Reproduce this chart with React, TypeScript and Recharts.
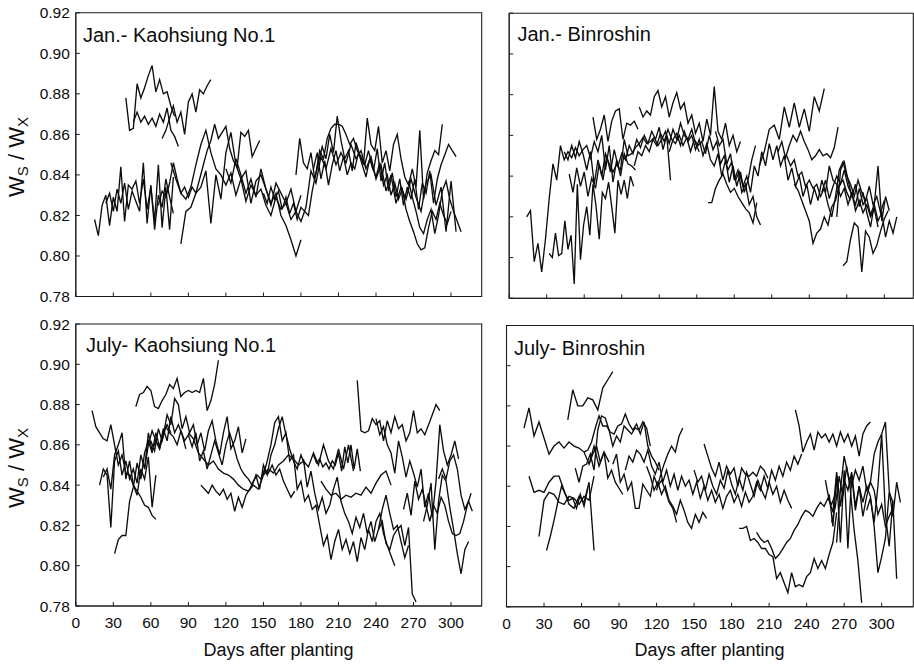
import React from 'react';
import { LineChart, Line, XAxis, YAxis, ReferenceArea } from 'recharts';

// One measured run: first day, sampling interval in days, then the Ws/Wx readings.
type Segment = { start: number; step: number; v: number[] };

const DAY_TICKS = [0, 30, 60, 90, 120, 150, 180, 210, 240, 270, 300];
const RATIO_TICKS = [0.78, 0.8, 0.82, 0.84, 0.86, 0.88, 0.9, 0.92];

// January planting, Kaohsiung No.1
const janKaohsiung: Segment[] = [
  { start: 15, step: 3, v: [0.818, 0.810, 0.825, 0.830, 0.815, 0.829, 0.822, 0.844, 0.817, 0.835, 0.833, 0.837, 0.826, 0.838, 0.823, 0.834, 0.817, 0.845, 0.814, 0.834, 0.813, 0.839] },
  { start: 24, step: 3, v: [0.826, 0.831, 0.822, 0.833, 0.826, 0.836, 0.823, 0.832, 0.827, 0.822, 0.846, 0.816, 0.835, 0.813, 0.830, 0.824, 0.838, 0.829, 0.821] },
  { start: 40, step: 3, v: [0.878, 0.862, 0.863, 0.885, 0.878, 0.883, 0.889, 0.894, 0.881, 0.887, 0.880, 0.881, 0.874, 0.869] },
  { start: 46, step: 3, v: [0.866, 0.871, 0.866, 0.869, 0.865, 0.868, 0.864, 0.870, 0.866, 0.873, 0.862, 0.859, 0.854] },
  { start: 69, step: 3, v: [0.858, 0.862, 0.868, 0.874, 0.866, 0.871, 0.860, 0.876, 0.880, 0.871, 0.882, 0.880, 0.884, 0.887] },
  { start: 66, step: 3, v: [0.825, 0.832, 0.829, 0.836, 0.846, 0.838, 0.831, 0.834, 0.829, 0.834, 0.831, 0.838, 0.845, 0.852, 0.857, 0.865, 0.858, 0.861, 0.864, 0.853, 0.847, 0.844, 0.861, 0.859, 0.862, 0.849, 0.853, 0.857] },
  { start: 76, step: 4, v: [0.846, 0.838, 0.831, 0.828, 0.834, 0.845, 0.855, 0.862, 0.851, 0.843, 0.840, 0.835, 0.841, 0.830, 0.838, 0.827, 0.835, 0.830, 0.833, 0.825, 0.820, 0.829, 0.823, 0.826, 0.818, 0.822, 0.830] },
  { start: 84, step: 4, v: [0.806, 0.822, 0.824, 0.831, 0.834, 0.842, 0.816, 0.840, 0.828, 0.851, 0.861, 0.845, 0.838, 0.842, 0.826, 0.837, 0.840, 0.833, 0.825, 0.836, 0.831, 0.826, 0.833, 0.822, 0.817, 0.824, 0.842, 0.836, 0.849, 0.843, 0.853, 0.845, 0.851, 0.846, 0.855, 0.848, 0.852, 0.843, 0.849, 0.838, 0.845, 0.832, 0.840, 0.826, 0.834, 0.828, 0.838, 0.829, 0.822, 0.836, 0.840, 0.825, 0.834, 0.812, 0.837, 0.812] },
  { start: 120, step: 4, v: [0.843, 0.836, 0.848, 0.840, 0.831, 0.838, 0.829, 0.843, 0.833, 0.826, 0.831, 0.820, 0.815, 0.808, 0.800, 0.808] },
  { start: 150, step: 3, v: [0.831, 0.826, 0.834, 0.828, 0.832, 0.823, 0.829, 0.821, 0.826, 0.818, 0.824, 0.822, 0.820, 0.832, 0.841, 0.852, 0.848, 0.858, 0.863, 0.865, 0.865, 0.864, 0.860, 0.855, 0.858, 0.852, 0.849, 0.845, 0.852, 0.844, 0.839, 0.846, 0.835, 0.840, 0.830, 0.836, 0.828, 0.833, 0.823, 0.817, 0.812, 0.806, 0.803, 0.804, 0.814, 0.822, 0.818, 0.826, 0.820, 0.816, 0.822] },
  { start: 176, step: 3, v: [0.840, 0.858, 0.846, 0.843, 0.851, 0.838, 0.846, 0.854, 0.848, 0.860, 0.851, 0.869, 0.857, 0.848, 0.852, 0.842, 0.856, 0.850, 0.845, 0.868, 0.855, 0.852, 0.864, 0.846, 0.852, 0.842, 0.855, 0.860, 0.848, 0.839, 0.835, 0.843, 0.834, 0.862, 0.828, 0.841, 0.847, 0.852, 0.850, 0.865] },
  { start: 190, step: 3, v: [0.843, 0.851, 0.838, 0.847, 0.835, 0.845, 0.852, 0.842, 0.849, 0.840, 0.846, 0.843, 0.851, 0.845, 0.839, 0.848, 0.842, 0.853, 0.837, 0.846, 0.832, 0.841, 0.829, 0.838, 0.825, 0.834, 0.828, 0.838, 0.823, 0.836, 0.831, 0.842, 0.826, 0.838, 0.845, 0.850, 0.855, 0.852, 0.849] },
  { start: 266, step: 3, v: [0.837, 0.829, 0.822, 0.814, 0.811, 0.818, 0.823, 0.811, 0.820, 0.832, 0.837, 0.828, 0.822, 0.817, 0.812] },
];

// January planting, Binroshin
const janBinroshin: Segment[] = [
  { start: 14, step: 3, v: [0.820, 0.823, 0.798, 0.807, 0.793, 0.809, 0.829, 0.846, 0.838, 0.855, 0.848, 0.852, 0.849, 0.854, 0.850, 0.853, 0.855, 0.849, 0.857, 0.852, 0.860, 0.843, 0.855, 0.837, 0.848, 0.840, 0.851, 0.846, 0.845, 0.843] },
  { start: 32, step: 2.5, v: [0.802, 0.800, 0.812, 0.801, 0.802, 0.818, 0.804, 0.811, 0.787, 0.836, 0.799, 0.816, 0.825, 0.811, 0.836, 0.825, 0.809, 0.832, 0.829, 0.837, 0.825, 0.812, 0.838, 0.831, 0.838, 0.829, 0.840, 0.835] },
  { start: 44, step: 3, v: [0.852, 0.848, 0.855, 0.849, 0.857, 0.851, 0.843, 0.852, 0.836, 0.848, 0.840, 0.851, 0.846, 0.842, 0.846, 0.843, 0.858, 0.850, 0.851, 0.854, 0.856, 0.859, 0.856, 0.857, 0.859, 0.855, 0.858, 0.862, 0.856, 0.863, 0.858, 0.866, 0.860, 0.858, 0.863, 0.856, 0.852] },
  { start: 48, step: 3, v: [0.841, 0.832, 0.844, 0.835, 0.842, 0.830, 0.839, 0.834, 0.846, 0.838, 0.850, 0.842, 0.853, 0.845, 0.851, 0.848, 0.855, 0.851, 0.858, 0.854, 0.860, 0.856, 0.862, 0.858, 0.864, 0.853, 0.860, 0.838] },
  { start: 67, step: 3, v: [0.869, 0.858, 0.863, 0.870, 0.857, 0.867, 0.872, 0.873, 0.858, 0.866, 0.865, 0.867, 0.863] },
  { start: 104, step: 3, v: [0.874, 0.869, 0.872, 0.870, 0.879, 0.882, 0.874, 0.879, 0.869, 0.876, 0.881, 0.873, 0.876, 0.866, 0.870, 0.861, 0.866, 0.857, 0.868, 0.860, 0.884, 0.862, 0.858, 0.866, 0.855, 0.860, 0.852, 0.857] },
  { start: 100, step: 3, v: [0.845, 0.852, 0.850, 0.855, 0.852, 0.858, 0.855, 0.861, 0.857, 0.863, 0.858, 0.856, 0.860, 0.855, 0.859, 0.852, 0.858, 0.855, 0.857, 0.851, 0.860, 0.853, 0.857, 0.846, 0.850, 0.843, 0.847, 0.838, 0.842, 0.835, 0.840, 0.832, 0.845, 0.840, 0.852, 0.845, 0.856, 0.848, 0.855, 0.845, 0.850, 0.838, 0.844, 0.835, 0.840, 0.830, 0.836, 0.826, 0.834, 0.828, 0.838, 0.832, 0.845, 0.838, 0.836, 0.830, 0.834, 0.826, 0.832, 0.823, 0.828, 0.822, 0.826, 0.820, 0.824, 0.815] },
  { start: 128, step: 3, v: [0.852, 0.858, 0.861, 0.855, 0.862, 0.857, 0.860, 0.853, 0.858, 0.850, 0.856, 0.848, 0.845, 0.851, 0.840, 0.848, 0.837, 0.845, 0.835, 0.842, 0.832, 0.838, 0.848, 0.855] },
  { start: 159, step: 3, v: [0.827, 0.827, 0.834, 0.838, 0.841, 0.836, 0.832, 0.834, 0.830, 0.827, 0.824, 0.822, 0.817, 0.827] },
  { start: 165, step: 3, v: [0.862, 0.855, 0.858, 0.846, 0.851, 0.838, 0.843, 0.832, 0.836, 0.826, 0.830, 0.820, 0.816] },
  { start: 200, step: 4, v: [0.845, 0.852, 0.863, 0.865, 0.858, 0.874, 0.864, 0.876, 0.864, 0.873, 0.862, 0.879, 0.872, 0.883] },
  { start: 215, step: 3, v: [0.852, 0.857, 0.849, 0.855, 0.860, 0.857, 0.862, 0.857, 0.853, 0.848, 0.850, 0.853, 0.850, 0.851, 0.849, 0.854, 0.864] },
  { start: 222, step: 3, v: [0.850, 0.845, 0.848, 0.840, 0.842, 0.835, 0.838, 0.834, 0.836, 0.830, 0.834, 0.826, 0.820, 0.830, 0.843, 0.847, 0.840, 0.836, 0.830, 0.838, 0.832, 0.828, 0.835, 0.826, 0.830, 0.822, 0.828] },
  { start: 228, step: 3, v: [0.836, 0.833, 0.828, 0.823, 0.818, 0.807, 0.812, 0.814, 0.820, 0.816, 0.825, 0.828, 0.836, 0.838, 0.832, 0.828] },
  { start: 267, step: 3, v: [0.796, 0.798, 0.809, 0.817, 0.815, 0.793, 0.813, 0.810, 0.802, 0.806, 0.813, 0.819, 0.823] },
  { start: 262, step: 3, v: [0.820, 0.843, 0.847, 0.838, 0.830, 0.836, 0.825, 0.832, 0.822, 0.815, 0.826, 0.845, 0.818, 0.830, 0.823] },
  { start: 250, step: 3, v: [0.832, 0.838, 0.829, 0.835, 0.840, 0.836, 0.843, 0.835, 0.831, 0.826, 0.834, 0.826, 0.829, 0.821, 0.826, 0.818, 0.822, 0.810, 0.818, 0.812, 0.820] },
];

// July planting, Kaohsiung No.1
const julKaohsiung: Segment[] = [
  { start: 13, step: 3, v: [0.877, 0.869, 0.866, 0.863, 0.862, 0.870, 0.860, 0.850, 0.855, 0.846, 0.845, 0.840, 0.837, 0.834, 0.830, 0.829, 0.825, 0.823] },
  { start: 19, step: 3, v: [0.840, 0.848, 0.845, 0.819, 0.852, 0.857, 0.845, 0.852, 0.843, 0.848, 0.841, 0.855, 0.848, 0.866, 0.857, 0.862, 0.858, 0.867, 0.870, 0.866] },
  { start: 22, step: 3, v: [0.844, 0.848, 0.838, 0.855, 0.860, 0.866, 0.843, 0.852, 0.840, 0.835, 0.848, 0.843, 0.854, 0.829, 0.845] },
  { start: 31, step: 3, v: [0.806, 0.813, 0.815, 0.815, 0.832, 0.839, 0.851, 0.843, 0.856, 0.862, 0.856, 0.866, 0.859, 0.868, 0.862, 0.874, 0.866, 0.870, 0.865, 0.858] },
  { start: 48, step: 3, v: [0.879, 0.885, 0.886, 0.889, 0.887, 0.879, 0.878, 0.882, 0.885, 0.890, 0.888, 0.893, 0.884, 0.886, 0.887, 0.886, 0.887, 0.886, 0.893, 0.877, 0.882, 0.890, 0.902] },
  { start: 55, step: 3, v: [0.848, 0.860, 0.867, 0.862, 0.858, 0.865, 0.875, 0.870, 0.883, 0.880, 0.868, 0.874, 0.866, 0.870, 0.860, 0.866, 0.857, 0.867, 0.872, 0.862, 0.855, 0.866, 0.874, 0.858, 0.862, 0.869, 0.856, 0.863] },
  { start: 60, step: 3, v: [0.862, 0.857, 0.868, 0.862, 0.869, 0.866, 0.864, 0.860, 0.867, 0.862, 0.865, 0.859, 0.866, 0.852, 0.857, 0.848, 0.855, 0.862, 0.856, 0.850, 0.860, 0.866, 0.860, 0.853, 0.848, 0.845, 0.843, 0.840, 0.845, 0.838, 0.850, 0.845, 0.855, 0.860, 0.868, 0.874, 0.865, 0.858, 0.852, 0.848, 0.855, 0.850] },
  { start: 100, step: 3, v: [0.840, 0.838, 0.836, 0.840, 0.837, 0.835, 0.838, 0.833, 0.836, 0.827, 0.834, 0.829, 0.835, 0.838, 0.842, 0.845, 0.843, 0.848, 0.846, 0.850, 0.845, 0.848, 0.842, 0.838, 0.834, 0.837] },
  { start: 90, step: 4, v: [0.866, 0.863, 0.856, 0.853, 0.850, 0.852, 0.848, 0.846, 0.845, 0.843, 0.840, 0.838, 0.837, 0.840, 0.838, 0.845, 0.848, 0.846, 0.850, 0.852, 0.855, 0.853, 0.850, 0.852, 0.849, 0.856, 0.850, 0.860, 0.852, 0.848, 0.858, 0.848, 0.860, 0.847] },
  { start: 150, step: 3, v: [0.845, 0.852, 0.860, 0.871, 0.874, 0.862, 0.866, 0.852, 0.855, 0.838, 0.842, 0.832, 0.835, 0.828, 0.830, 0.820, 0.810, 0.815, 0.803, 0.812, 0.818, 0.808, 0.813, 0.806, 0.812, 0.802, 0.814, 0.808, 0.818, 0.812, 0.822, 0.826, 0.816, 0.810, 0.805, 0.800] },
  { start: 182, step: 3, v: [0.853, 0.839, 0.847, 0.836, 0.828, 0.834, 0.826, 0.830, 0.838, 0.844, 0.832, 0.826, 0.822, 0.816, 0.824, 0.819, 0.826, 0.816, 0.822, 0.812, 0.818, 0.828, 0.835, 0.826, 0.818, 0.820, 0.812, 0.804, 0.810] },
  { start: 196, step: 4, v: [0.842, 0.838, 0.835, 0.836, 0.833, 0.835, 0.834, 0.836, 0.835, 0.839, 0.836, 0.841, 0.845, 0.847, 0.840] },
  { start: 190, step: 2.5, v: [0.855, 0.851, 0.853, 0.849, 0.851, 0.848, 0.852, 0.850, 0.856, 0.847, 0.859, 0.851, 0.860, 0.848, 0.858, 0.847] },
  { start: 225, step: 3, v: [0.892, 0.867, 0.866, 0.867, 0.873, 0.870, 0.872, 0.862, 0.872, 0.866, 0.874, 0.868, 0.870, 0.862, 0.866, 0.877, 0.866, 0.868, 0.865, 0.870, 0.875, 0.880, 0.877] },
  { start: 240, step: 3, v: [0.873, 0.865, 0.869, 0.860, 0.856, 0.846, 0.862, 0.854, 0.844, 0.852, 0.846, 0.839, 0.848, 0.829, 0.836, 0.824, 0.842, 0.870, 0.857, 0.850, 0.855, 0.862, 0.853] },
  { start: 242, step: 3, v: [0.818, 0.822, 0.811, 0.808, 0.815, 0.818, 0.820, 0.810, 0.819, 0.786, 0.782] },
  { start: 262, step: 3, v: [0.828, 0.836, 0.825, 0.842, 0.833, 0.838, 0.830, 0.822, 0.830, 0.826, 0.834, 0.830, 0.822, 0.816, 0.815, 0.816, 0.822, 0.830, 0.836] },
  { start: 278, step: 3, v: [0.822, 0.830, 0.841, 0.808, 0.832, 0.845, 0.842, 0.829, 0.818, 0.806, 0.796, 0.808, 0.812] },
  { start: 290, step: 3, v: [0.843, 0.848, 0.843, 0.852, 0.855, 0.848, 0.835, 0.828, 0.832, 0.827] },
];

// July planting, Binroshin
const julBinroshin: Segment[] = [
  { start: 14, step: 4, v: [0.869, 0.879, 0.865, 0.872, 0.864, 0.856, 0.860, 0.862, 0.859, 0.862, 0.860, 0.859, 0.857, 0.851, 0.860, 0.850, 0.857, 0.852] },
  { start: 49, step: 4, v: [0.873, 0.888, 0.880, 0.880, 0.884, 0.883, 0.878, 0.889, 0.893, 0.897] },
  { start: 18, step: 4, v: [0.845, 0.837, 0.838, 0.837, 0.842, 0.845, 0.845, 0.838, 0.831, 0.829, 0.835, 0.832, 0.842, 0.808] },
  { start: 26, step: 4, v: [0.815, 0.833, 0.837, 0.836, 0.832, 0.831, 0.835, 0.834, 0.831, 0.835, 0.833, 0.845] },
  { start: 32, step: 3, v: [0.808, 0.815, 0.823, 0.832, 0.840, 0.836, 0.833, 0.834, 0.829, 0.836, 0.830, 0.839] },
  { start: 55, step: 3, v: [0.849, 0.842, 0.850, 0.851, 0.856, 0.848, 0.868, 0.875, 0.874, 0.868, 0.860, 0.865, 0.862, 0.870, 0.868, 0.866, 0.869, 0.868, 0.872, 0.869, 0.860] },
  { start: 62, step: 3, v: [0.857, 0.858, 0.862, 0.869, 0.875, 0.870, 0.870, 0.867, 0.866, 0.870, 0.871, 0.876, 0.871, 0.868, 0.871, 0.866, 0.872, 0.860, 0.855, 0.852, 0.848] },
  { start: 66, step: 3, v: [0.851, 0.856, 0.860, 0.852, 0.857, 0.844, 0.848, 0.842, 0.839, 0.836] },
  { start: 85, step: 3, v: [0.851, 0.856, 0.842, 0.846, 0.838, 0.842, 0.829, 0.829, 0.841, 0.838, 0.835, 0.845, 0.840, 0.843, 0.838, 0.832, 0.829, 0.822] },
  { start: 95, step: 3, v: [0.848, 0.855, 0.852, 0.858, 0.856, 0.852, 0.858, 0.850, 0.846, 0.852, 0.842, 0.848, 0.840, 0.846, 0.838, 0.845, 0.840, 0.843, 0.836, 0.842, 0.834, 0.840, 0.833, 0.838, 0.832, 0.836, 0.829, 0.835, 0.838, 0.832, 0.836, 0.830, 0.837, 0.832, 0.835, 0.842, 0.838, 0.845, 0.839, 0.848, 0.843, 0.850, 0.845, 0.852, 0.848, 0.855, 0.851, 0.856] },
  { start: 120, step: 3, v: [0.838, 0.845, 0.851, 0.856, 0.860, 0.857, 0.865, 0.869] },
  { start: 112, step: 3, v: [0.850, 0.845, 0.838, 0.842, 0.836, 0.840, 0.833, 0.830, 0.826, 0.833, 0.828, 0.822, 0.819, 0.826, 0.822, 0.827, 0.824] },
  { start: 150, step: 3, v: [0.848, 0.842, 0.845, 0.838, 0.846, 0.840, 0.836, 0.843, 0.839, 0.848, 0.841, 0.836, 0.844, 0.838, 0.847, 0.841, 0.835, 0.843, 0.838, 0.834, 0.842, 0.836, 0.840, 0.832, 0.838, 0.833, 0.829] },
  { start: 158, step: 3, v: [0.861, 0.855, 0.849, 0.845, 0.852, 0.843, 0.850, 0.846, 0.849, 0.840, 0.849, 0.846, 0.845, 0.847, 0.845, 0.850, 0.848, 0.844] },
  { start: 186, step: 3, v: [0.819, 0.819, 0.820, 0.813, 0.814, 0.812, 0.809, 0.809, 0.806, 0.805, 0.794, 0.797, 0.792, 0.787, 0.797, 0.790, 0.791, 0.790, 0.795, 0.797, 0.804, 0.799, 0.803, 0.799, 0.806, 0.812, 0.827] },
  { start: 200, step: 3, v: [0.817, 0.814, 0.812, 0.813, 0.809, 0.804, 0.806, 0.809, 0.812, 0.814, 0.818, 0.821, 0.825, 0.828, 0.827, 0.825, 0.829, 0.832, 0.830, 0.834, 0.831, 0.836] },
  { start: 231, step: 3, v: [0.878, 0.870, 0.857, 0.862, 0.866, 0.858, 0.867, 0.864, 0.866, 0.862, 0.866, 0.860, 0.867, 0.862, 0.866, 0.860, 0.865, 0.855, 0.866, 0.870, 0.872] },
  { start: 255, step: 3, v: [0.843, 0.833, 0.827, 0.847, 0.830, 0.843, 0.838, 0.847, 0.830, 0.840, 0.832, 0.840, 0.835, 0.820, 0.797, 0.805, 0.814, 0.837, 0.832, 0.794] },
  { start: 258, step: 3, v: [0.836, 0.820, 0.845, 0.812, 0.848, 0.809, 0.846, 0.828, 0.840, 0.825, 0.835, 0.842, 0.838, 0.826, 0.831, 0.820, 0.825, 0.829] },
  { start: 260, step: 3, v: [0.822, 0.830, 0.845, 0.835, 0.850, 0.838, 0.818, 0.803, 0.782] },
  { start: 264, step: 3, v: [0.812, 0.838, 0.855, 0.846, 0.840, 0.848, 0.843, 0.850, 0.838, 0.842, 0.856, 0.862, 0.866, 0.872, 0.838, 0.825, 0.842, 0.832] },
  { start: 288, step: 3, v: [0.828, 0.834, 0.822, 0.840, 0.866, 0.826, 0.810, 0.833] },
];

const W = 914;
const H = 665;
const FONT = '"Liberation Sans", Arial, Helvetica, sans-serif';
const INK = '#0d0d0d';
const AXIS = '#1c1c1c';
const AXIS_W = 40; // room reserved for each axis; the tick renderers place labels themselves

type Box = { x0: number; x1: number; y0: number; y1: number; dayMax: number };

const toPoints = (s: Segment) => s.v.map((v, i) => ({ d: s.start + i * s.step, v }));

// Inward tick on the bottom axis, label below it when wanted.
const dayTick = (withLabel: boolean) => (props: any) => {
  const { x, y, payload } = props;
  return (
    <g>
      <line x1={x} x2={x} y1={y} y2={y - 4} stroke={AXIS} />
      {withLabel && (
        <text x={x} y={y + 22} textAnchor="middle" fontSize={15.5} fontFamily={FONT} fill={INK}>
          {payload.value}
        </text>
      )}
    </g>
  );
};

// Inward tick on the left axis, label to its left when wanted.
const ratioTick = (withLabel: boolean) => (props: any) => {
  const { x, y, payload } = props;
  return (
    <g>
      <line x1={x} x2={x + 4} y1={y} y2={y} stroke={AXIS} />
      {withLabel && (
        <text x={x - 6} y={y + 5.5} textAnchor="end" fontSize={15.5} fontFamily={FONT} fill={INK}>
          {Number(payload.value).toFixed(2)}
        </text>
      )}
    </g>
  );
};

interface PanelProps {
  segments: Segment[];
  box: Box;
  dayLabels: boolean;
  ratioLabels: boolean;
}

// Each panel is a full-page chart whose margins put the plot box in place.
const Panel = ({ segments, box, dayLabels, ratioLabels }: PanelProps) => (
  <div style={{ position: 'absolute', left: 0, top: 0 }}>
    <LineChart
      width={W}
      height={H}
      margin={{ top: box.y0, left: box.x0 - AXIS_W, right: W - box.x1, bottom: H - box.y1 - AXIS_W }}
    >
      <XAxis
        type="number"
        dataKey="d"
        domain={[0, box.dayMax]}
        ticks={DAY_TICKS}
        interval={0}
        allowDataOverflow
        height={AXIS_W}
        tickSize={0}
        tickMargin={0}
        tickLine={false}
        stroke={AXIS}
        tick={dayTick(dayLabels)}
      />
      <YAxis
        type="number"
        domain={[0.78, 0.92]}
        ticks={RATIO_TICKS}
        interval={0}
        allowDataOverflow
        width={AXIS_W}
        tickSize={0}
        tickMargin={0}
        tickLine={false}
        stroke={AXIS}
        tick={ratioTick(ratioLabels)}
      />
      <ReferenceArea
        x1={0}
        x2={box.dayMax}
        y1={0.78}
        y2={0.92}
        fill="none"
        fillOpacity={0}
        stroke={AXIS}
        strokeWidth={1.1}
      />
      {segments.map((s, i) => (
        <Line
          key={i}
          data={toPoints(s)}
          dataKey="v"
          type="linear"
          dot={false}
          activeDot={false}
          stroke={INK}
          strokeWidth={1.35}
          isAnimationActive={false}
        />
      ))}
    </LineChart>
  </div>
);

const RatioLabel = ({ cx, cy }: { cx: number; cy: number }) => (
  <text
    transform={`rotate(-90 ${cx} ${cy})`}
    x={cx}
    y={cy}
    textAnchor="middle"
    fontSize={22}
    fontFamily={FONT}
    fill={INK}
  >
    W<tspan fontSize={15} dy={4}>S</tspan>
    <tspan dy={-4}> / W</tspan>
    <tspan fontSize={15} dy={4}>X</tspan>
  </text>
);

const titleStyle = { fontSize: 20, fontFamily: FONT, fill: INK };

export default function App() {
  return (
    <div style={{ position: 'absolute', left: 0, top: 0, width: W, height: H, background: '#fff', overflow: 'hidden' }}>
      <Panel segments={janKaohsiung} box={{ x0: 75.8, x1: 481.7, y0: 12.8, y1: 296.5, dayMax: 324.5 }} dayLabels={false} ratioLabels />
      <Panel segments={janBinroshin} box={{ x0: 509.2, x1: 913.3, y0: 13.2, y1: 298.3, dayMax: 323.2 }} dayLabels={false} ratioLabels={false} />
      <Panel segments={julKaohsiung} box={{ x0: 75.8, x1: 481.7, y0: 324, y1: 606, dayMax: 324.5 }} dayLabels ratioLabels />
      <Panel segments={julBinroshin} box={{ x0: 506.5, x1: 913.3, y0: 325.5, y1: 606.8, dayMax: 325.3 }} dayLabels ratioLabels={false} />
      <svg width={W} height={H} style={{ position: 'absolute', left: 0, top: 0, pointerEvents: 'none' }}>
        <text x={83} y={41.5} {...titleStyle}>Jan.- Kaohsiung No.1</text>
        <text x={517.5} y={40.7} {...titleStyle}>Jan.- Binroshin</text>
        <text x={86} y={351.5} {...titleStyle}>July- Kaohsiung No.1</text>
        <text x={514} y={355} {...titleStyle}>July- Binroshin</text>
        <RatioLabel cx={24} cy={157} />
        <RatioLabel cx={24} cy={468} />
        <text x={278.5} y={656} textAnchor="middle" fontSize={18} fontFamily={FONT} fill={INK}>Days after planting</text>
        <text x={709.5} y={656} textAnchor="middle" fontSize={18} fontFamily={FONT} fill={INK}>Days after planting</text>
      </svg>
    </div>
  );
}
